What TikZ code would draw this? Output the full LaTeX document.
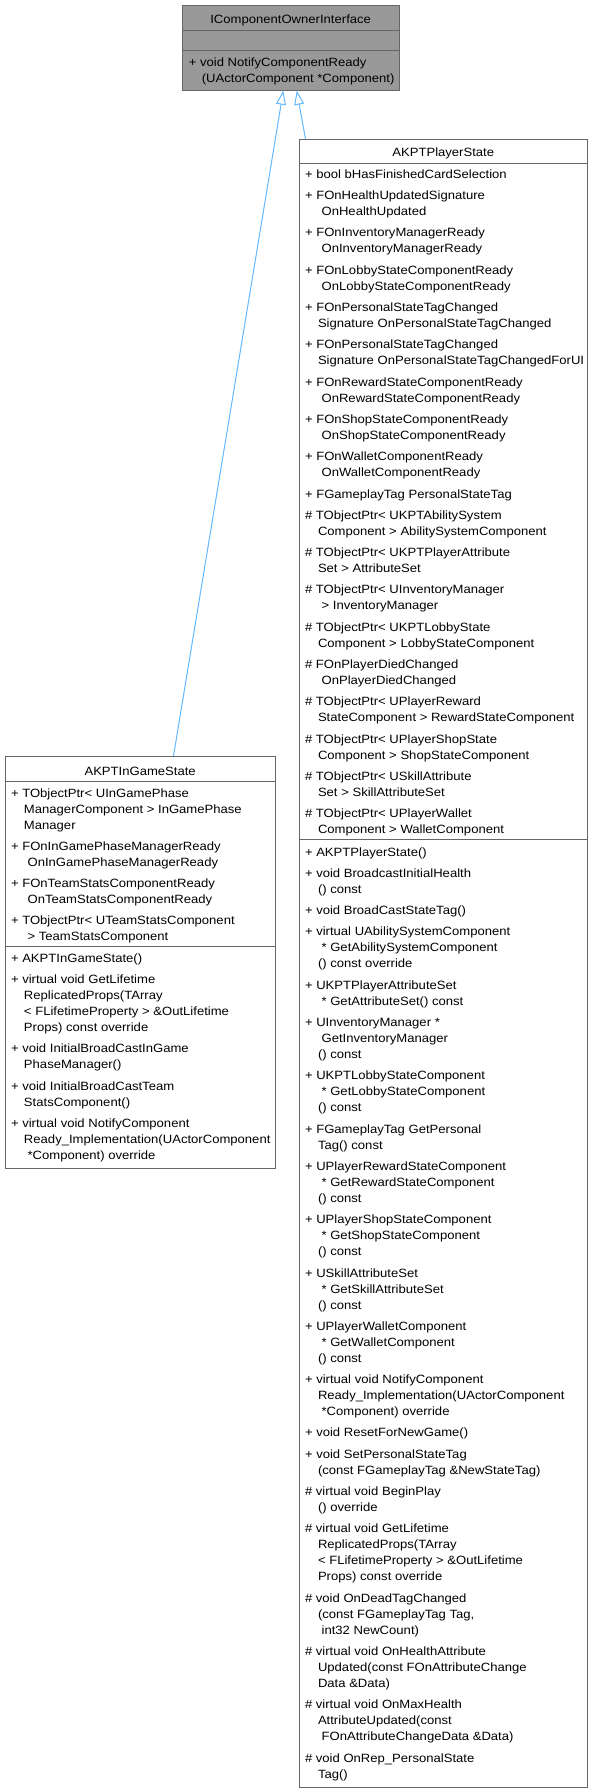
\documentclass[tikz,border=0pt]{standalone}
\usepackage{fontspec}
\setmainfont{Liberation Sans}[FakeStretch=1.09]
\usetikzlibrary{arrows.meta,calc}
\definecolor{edgeblue}{HTML}{63B8FF}
\definecolor{bordergray}{HTML}{666666}
\definecolor{headgray}{HTML}{999999}
\newcommand\cn{\hspace*{13pt}}
\newcommand\cs{\hspace*{16.6pt}}
\newcommand\entrysep{\\[5.3pt]}
\begin{document}
\begin{tikzpicture}[x=1pt,y=-1pt,
  cls/.style={draw=bordergray, line width=1pt, fill=white, inner sep=0pt, outer sep=0pt, anchor=north west},
  ttl/.style={anchor=base, inner sep=0pt, font=\fontsize{12}{16}\selectfont},
  mem/.style={anchor=north west, inner sep=0pt, outer sep=0pt, align=left, font=\fontsize{12}{16}\selectfont},
  sepline/.style={draw=bordergray, line width=1pt},
  inh/.style={draw=edgeblue, line width=1pt, -{Triangle[open,length=14pt,width=10pt]}}]
\useasboundingbox[fill=white] (0,0) rectangle (592,1792);

% ---------- IComponentOwnerInterface ----------
\node[cls, fill=headgray, minimum width=216.7pt, minimum height=85.7pt] (ico) at (182.3,5) {};
\draw[sepline] ($(ico.north west)+(0,25)$) -- ($(ico.north east)+(0,25)$);
\draw[sepline] ($(ico.north west)+(0,45.7)$) -- ($(ico.north east)+(0,45.7)$);
\node[ttl] (ico-t) at ($(ico.north)+(0,18)$) {IComponentOwnerInterface};
\node[mem] (ico-m) at ($(ico.north west)+(6.5,49.8)$) {\strut+ void NotifyComponentReady\\\cn(UActorComponent *Component)};

% ---------- AKPTPlayerState ----------
\node[cls, minimum width=288.5pt, minimum height=1648.5pt] (ps) at (299,139) {};
\draw[sepline] ($(ps.north west)+(0,24)$) -- ($(ps.north east)+(0,24)$);
\draw[sepline] ($(ps.north west)+(0,700.5)$) -- ($(ps.north east)+(0,700.5)$);
\node[ttl] (ps-t) at ($(ps.north)+(0,17.7)$) {AKPTPlayerState};
\node[mem] (ps-a) at ($(ps.north west)+(6,28.1)$) {\strut+ bool bHasFinishedCardSelection\entrysep
+ FOnHealthUpdatedSignature\\\cs OnHealthUpdated\entrysep
+ FOnInventoryManagerReady\\\cs OnInventoryManagerReady\entrysep
+ FOnLobbyStateComponentReady\\\cs OnLobbyStateComponentReady\entrysep
+ FOnPersonalStateTagChanged\\\cn Signature OnPersonalStateTagChanged\entrysep
+ FOnPersonalStateTagChanged\\\cn Signature OnPersonalStateTagChangedForUI\entrysep
+ FOnRewardStateComponentReady\\\cs OnRewardStateComponentReady\entrysep
+ FOnShopStateComponentReady\\\cs OnShopStateComponentReady\entrysep
+ FOnWalletComponentReady\\\cs OnWalletComponentReady\entrysep
+ FGameplayTag PersonalStateTag\entrysep
\# TObjectPtr< UKPTAbilitySystem\\\cn Component > AbilitySystemComponent\entrysep
\# TObjectPtr< UKPTPlayerAttribute\\\cn Set > AttributeSet\entrysep
\# TObjectPtr< UInventoryManager\\\cs > InventoryManager\entrysep
\# TObjectPtr< UKPTLobbyState\\\cn Component > LobbyStateComponent\entrysep
\# FOnPlayerDiedChanged\\\cs OnPlayerDiedChanged\entrysep
\# TObjectPtr< UPlayerReward\\\cn StateComponent > RewardStateComponent\entrysep
\# TObjectPtr< UPlayerShopState\\\cn Component > ShopStateComponent\entrysep
\# TObjectPtr< USkillAttribute\\\cn Set > SkillAttributeSet\entrysep
\# TObjectPtr< UPlayerWallet\\\cn Component > WalletComponent};
\node[mem] (ps-m) at ($(ps.north west)+(6,705.8)$) {\strut+ AKPTPlayerState()\entrysep
+ void BroadcastInitialHealth\\\cn() const\entrysep
+ void BroadCastStateTag()\entrysep
+ virtual UAbilitySystemComponent\\\cs * GetAbilitySystemComponent\\\cn() const override\entrysep
+ UKPTPlayerAttributeSet\\\cs * GetAttributeSet() const\entrysep
+ UInventoryManager *\\\cs GetInventoryManager\\\cn() const\entrysep
+ UKPTLobbyStateComponent\\\cs * GetLobbyStateComponent\\\cn() const\entrysep
+ FGameplayTag GetPersonal\\\cn Tag() const\entrysep
+ UPlayerRewardStateComponent\\\cs * GetRewardStateComponent\\\cn() const\entrysep
+ UPlayerShopStateComponent\\\cs * GetShopStateComponent\\\cn() const\entrysep
+ USkillAttributeSet\\\cs * GetSkillAttributeSet\\\cn() const\entrysep
+ UPlayerWalletComponent\\\cs * GetWalletComponent\\\cn() const\entrysep
+ virtual void NotifyComponent\\\cn Ready\_Implementation(UActorComponent\\\cs *Component) override\entrysep
+ void ResetForNewGame()\entrysep
+ void SetPersonalStateTag\\\cn(const FGameplayTag \&NewStateTag)\entrysep
\# virtual void BeginPlay\\\cn() override\entrysep
\# virtual void GetLifetime\\\cn ReplicatedProps(TArray\\\cn< FLifetimeProperty > \&OutLifetime\\\cn Props) const override\entrysep
\# void OnDeadTagChanged\\\cn(const FGameplayTag Tag,\\\cs int32 NewCount)\entrysep
\# virtual void OnHealthAttribute\\\cn Updated(const FOnAttributeChange\\\cn Data \&Data)\entrysep
\# virtual void OnMaxHealth\\\cn AttributeUpdated(const\\\cs FOnAttributeChangeData \&Data)\entrysep
\# void OnRep\_PersonalState\\\cn Tag()};

% ---------- AKPTInGameState ----------
\node[cls, minimum width=270.3pt, minimum height=412pt] (igs) at (5,756) {};
\draw[sepline] ($(igs.north west)+(0,25.7)$) -- ($(igs.north east)+(0,25.7)$);
\draw[sepline] ($(igs.north west)+(0,190.5)$) -- ($(igs.north east)+(0,190.5)$);
\node[ttl] (igs-t) at ($(igs.north)+(0,19)$) {AKPTInGameState};
\node[mem] (igs-a) at ($(igs.north west)+(6,29.8)$) {\strut+ TObjectPtr< UInGamePhase\\\cn ManagerComponent > InGamePhase\\\cn Manager\entrysep
+ FOnInGamePhaseManagerReady\\\cs OnInGamePhaseManagerReady\entrysep
+ FOnTeamStatsComponentReady\\\cs OnTeamStatsComponentReady\entrysep
+ TObjectPtr< UTeamStatsComponent\\\cs > TeamStatsComponent};
\node[mem] (igs-m) at ($(igs.north west)+(6,195.1)$) {\strut+ AKPTInGameState()\entrysep
+ virtual void GetLifetime\\\cn ReplicatedProps(TArray\\\cn< FLifetimeProperty > \&OutLifetime\\\cn Props) const override\entrysep
+ void InitialBroadCastInGame\\\cn PhaseManager()\entrysep
+ void InitialBroadCastTeam\\\cn StatsComponent()\entrysep
+ virtual void NotifyComponent\\\cn Ready\_Implementation(UActorComponent\\\cs *Component) override};

% ---------- inheritance ----------
\draw[inh] ($(igs.north west)+(168.5,0)$) -- ($(ico.south west)+(101,0)$);
\draw[inh] ($(ps.north west)+(6.5,0)$) -- ($(ico.south west)+(114.4,0)$);
\end{tikzpicture}
\end{document}
